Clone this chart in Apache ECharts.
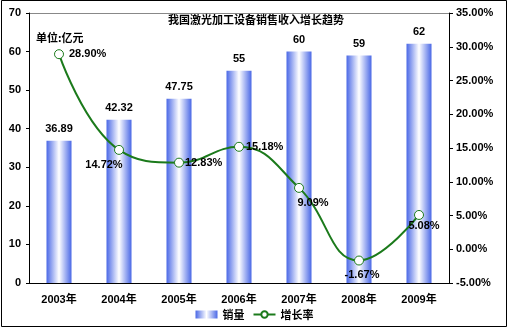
<!DOCTYPE html>
<html><head><meta charset="utf-8">
<script src="https://cdn.jsdelivr.net/npm/echarts@6/dist/echarts.min.js"></script>
<style>html,body{margin:0;padding:0;background:#fff}#c{width:509px;height:328px}</style>
</head><body><div id="c"></div>
<script>
const categories = ['2003年','2004年','2005年','2006年','2007年','2008年','2009年'];
const sales = [36.89, 42.32, 47.75, 55, 60, 59, 62];
const growth = [28.90, 14.72, 12.83, 15.18, 9.09, -1.67, 5.08];
const growthLabelPos = ['right','bottom','right','right','bottom','bottom','bottom'];
const growthLabelOffset = [[0,0],[-15,0],[-4,0],[-3,0],[14,0],[3,-1],[5,-4]];
const leftTicks = {min:0, max:70, interval:10};
const rightTicks = {min:-5, max:35, interval:5};

const F = '"Liberation Sans", Arial, "Noto Sans CJK SC", sans-serif';
const chart = echarts.init(document.getElementById('c'), null, {renderer:'canvas'});
const barGrad = new echarts.graphic.LinearGradient(0,0,1,0,[
  {offset:0,color:'#4a68e6'},{offset:0.5,color:'#ffffff'},{offset:1,color:'#4a68e6'}]);
chart.setOption({
  animation:false,
  backgroundColor:'#fff',
  graphic:[
    {type:'rect', shape:{x:1.5,y:0.5,width:505,height:326}, style:{fill:null, stroke:'#000', lineWidth:1}, z:-1},
    {type:'line', shape:{x1:29,y1:13.5,x2:449,y2:13.5}, style:{stroke:'#888', lineWidth:1}},
    {type:'text', left:168, top:14, style:{text:'我国激光加工设备销售收入增长趋势', font:'bold 11px "Noto Sans CJK SC"', fill:'#000'}},
    {type:'text', left:36, top:32, style:{text:'单位:亿元', font:'bold 11px "Noto Sans CJK SC"', fill:'#000'}}
  ],
  grid:{left:29, right:60, top:13, bottom:45},
  legend:{
    bottom:3, left:'center', itemGap:8, itemWidth:22, itemHeight:8,
    textStyle:{fontFamily:'"Noto Sans CJK SC"', fontWeight:'bold', fontSize:11, color:'#000'},
    data:[{name:'销量', icon:'rect'},{name:'增长率'}]
  },
  xAxis:{type:'category', data:categories,
    axisLine:{lineStyle:{color:'#000', width:1}},
    axisTick:{inside:true, length:3, lineStyle:{color:'#000'}},
    axisLabel:{margin:11, fontFamily:F, fontWeight:'bold', fontSize:11, color:'#000'}},
  yAxis:[
    {type:'value', min:leftTicks.min, max:leftTicks.max, interval:leftTicks.interval,
     axisLine:{show:true, lineStyle:{color:'#000'}}, axisTick:{show:true, length:3, lineStyle:{color:'#000'}},
     splitLine:{show:false},
     axisLabel:{margin:8, fontFamily:F, fontWeight:'bold', fontSize:11, color:'#000'}},
    {type:'value', min:rightTicks.min, max:rightTicks.max, interval:rightTicks.interval, position:'right',
     axisLine:{show:true, lineStyle:{color:'#000'}}, axisTick:{show:true, length:4, lineStyle:{color:'#000'}},
     splitLine:{show:false},
     axisLabel:{margin:7, fontFamily:F, fontWeight:'bold', fontSize:11, color:'#000', formatter:v=>v.toFixed(2)+'%'}}
  ],
  series:[
    {name:'销量', type:'bar', data:sales, barWidth:25,
     itemStyle:{color:barGrad},
     label:{show:true, position:'top', distance:6, fontFamily:F, fontWeight:'bold', fontSize:11, color:'#000'}},
    {name:'增长率', type:'line', yAxisIndex:1, smooth:0.45,
     data:growth.map((v,i)=>({value:v, label:{position:growthLabelPos[i], offset:growthLabelOffset[i]}})),
     symbol:'circle', symbolSize:9,
     lineStyle:{color:'#1b7a1b', width:2},
     itemStyle:{color:'#fff', borderColor:'#1b7a1b', borderWidth:1},
     label:{show:true, distance:5, formatter:p=>p.value.toFixed(2)+'%', fontFamily:F, fontWeight:'bold', fontSize:11, color:'#000'}}
  ]
});
</script></body></html>
